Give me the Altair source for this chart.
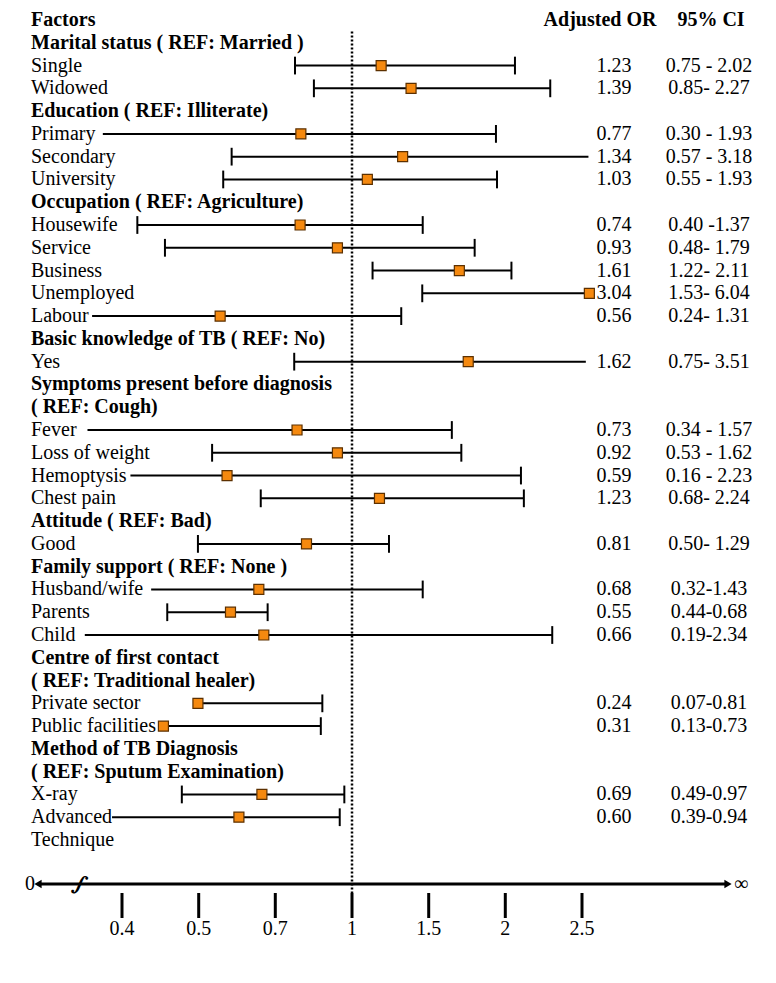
import altair as alt
import pandas as pd

FONT = "Liberation Serif"

# ---------------- data ----------------
labels = [
    "Factors", "Marital status ( REF: Married )", "Single", "Widowed",
    "Education ( REF: Illiterate)", "Primary", "Secondary", "University",
    "Occupation ( REF: Agriculture)", "Housewife", "Service", "Business", "Unemployed", "Labour",
    "Basic knowledge of TB ( REF: No)", "Yes",
    "Symptoms present before diagnosis", "( REF: Cough)", "Fever", "Loss of weight", "Hemoptysis", "Chest pain",
    "Attitude ( REF: Bad)", "Good",
    "Family support ( REF: None )", "Husband/wife", "Parents", "Child",
    "Centre of first contact", "( REF: Traditional healer)", "Private sector", "Public facilities",
    "Method of TB Diagnosis", "( REF: Sputum Examination)", "X-ray", "Advanced", "Technique",
]
is_header = [1, 1, 0, 0, 1, 0, 0, 0, 1, 0, 0, 0, 0, 0, 1, 0, 1, 1, 0, 0, 0, 0,
             1, 0, 1, 0, 0, 0, 1, 1, 0, 0, 1, 1, 0, 0, 0]

est_rows = [2, 3, 5, 6, 7, 9, 10, 11, 12, 13, 15, 18, 19, 20, 21, 23, 25, 26, 27, 30, 31, 34, 35]
or_text = ["1.23", "1.39", "0.77", "1.34", "1.03", "0.74", "0.93", "1.61", "3.04", "0.56", "1.62",
           "0.73", "0.92", "0.59", "1.23", "0.81", "0.68", "0.55", "0.66", "0.24", "0.31", "0.69", "0.60"]
ci_text = ["0.75 - 2.02", "0.85- 2.27", "0.30 - 1.93", "0.57 - 3.18", "0.55 - 1.93", "0.40 -1.37",
           "0.48- 1.79", "1.22- 2.11", "1.53- 6.04", "0.24- 1.31", "0.75- 3.51", "0.34 - 1.57",
           "0.53 - 1.62", "0.16 - 2.23", "0.68- 2.24", "0.50- 1.29", "0.32-1.43", "0.44-0.68",
           "0.19-2.34", "0.07-0.81", "0.13-0.73", "0.49-0.97", "0.39-0.94"]
# positions as drawn on the (broken) axis
or_pos = [1.19, 1.385, 0.80, 1.33, 1.10, 0.797, 0.943, 1.70, 2.548, 0.556, 1.758, 0.785, 0.943,
          0.574, 1.179, 0.822, 0.657, 0.583, 0.670, 0.499, 0.454, 0.665, 0.605]
lo_pos = [0.777, 0.851, 0.375, 0.586, 0.564, 0.420, 0.456, 1.134, 1.458, 0.361, 0.774, 0.355, 0.535,
          0.411, 0.662, 0.499, 0.438, 0.459, 0.3515, 0.499, 0.454, 0.478, 0.387]
hi_pos = [2.063, 2.293, 1.939, 2.542, 1.946, 1.461, 1.800, 2.040, 2.548, 1.321, 2.525, 1.651, 1.713,
          2.102, 2.121, 1.241, 1.461, 0.680, 2.306, 0.884, 0.878, 0.970, 0.952]
left_cap = [1, 1, 0, 1, 1, 1, 1, 1, 1, 0, 1, 0, 1, 0, 1, 1, 0, 1, 0, 0, 0, 1, 0]
right_cap = [1, 1, 1, 0, 1, 1, 1, 1, 0, 1, 0, 1, 1, 1, 1, 1, 1, 1, 1, 1, 1, 1, 1]

tick_values = [0.4, 0.5, 0.7, 1, 1.5, 2, 2.5]
tick_labels = ["0.4", "0.5", "0.7", "1", "1.5", "2", "2.5"]

# ---------------- tables ----------------
df_lab = pd.DataFrame({"label": labels, "row": list(range(len(labels))), "hdr": is_header})
df_est = pd.DataFrame({"row": est_rows, "or_t": or_text, "ci_t": ci_text,
                       "orp": or_pos, "lo": lo_pos, "hi": hi_pos})
cap_rows, cap_x = [], []
for r, lo, hi, lc, rc in zip(est_rows, lo_pos, hi_pos, left_cap, right_cap):
    if lc:
        cap_rows.append(r); cap_x.append(lo)
    if rc:
        cap_rows.append(r); cap_x.append(hi)
df_cap = pd.DataFrame({"row": cap_rows, "cx": cap_x})
df_ticks = pd.DataFrame({"v": tick_values, "t": tick_labels})
df_head = pd.DataFrame({"t": ["Adjusted OR", "95% CI"], "row": [0, 0]})

# ---------------- scales ----------------
W, H = 760, 962
Y0, Y36 = 12.0, 832.0               # chart px of rows 0 and 36
ROW = (Y36 - Y0) / 36.0
def r_at(py):                        # page pixel y -> row units (layout helper)
    return (py - 8 - Y0) / ROW

xs = alt.Scale(domain=tick_values, range=[114, 190.7, 267.3, 344, 420.7, 497.3, 574],
               nice=False, zero=False)
ys = alt.Scale(domain=[0, 36], range=[Y0, Y36], nice=False, zero=False)
Y = alt.Y("row:Q", scale=ys, axis=None)

AXIS_ROW = r_at(884)

lab_norm = alt.Chart(df_lab).transform_filter("datum.hdr == 0").mark_text(
    align="left", baseline="middle", font=FONT, fontSize=20, color="black"
).encode(x=alt.value(23), y=Y, text="label:N")

lab_bold = alt.Chart(df_lab).transform_filter("datum.hdr == 1").mark_text(
    align="left", baseline="middle", font=FONT, fontSize=20, fontWeight="bold", color="black"
).encode(x=alt.value(23), y=Y, text="label:N")

head_or = alt.Chart(df_head).transform_filter("datum.t == 'Adjusted OR'").mark_text(
    align="center", baseline="middle", font=FONT, fontSize=20, fontWeight="bold", color="black"
).encode(x=alt.value(592), y=Y, text="t:N")
head_ci = alt.Chart(df_head).transform_filter("datum.t == '95% CI'").mark_text(
    align="center", baseline="middle", font=FONT, fontSize=20, fontWeight="bold", color="black"
).encode(x=alt.value(703), y=Y, text="t:N")

ci_lines = alt.Chart(df_est).mark_rule(color="black", strokeWidth=2).encode(
    x=alt.X("lo:Q", scale=xs, axis=None), x2="hi:Q", y=Y)

caps = alt.Chart(df_cap).transform_calculate(
    y1="datum.row - 0.39", y2="datum.row + 0.39"
).mark_rule(color="black", strokeWidth=2).encode(
    x=alt.X("cx:Q", scale=xs, axis=None),
    y=alt.Y("y1:Q", scale=ys, axis=None), y2="y2:Q")

dotted = alt.Chart(pd.DataFrame({"v": [1]})).mark_rule(
    color="black", strokeWidth=2.5, strokeDash=[2, 2]
).encode(x=alt.X("v:Q", scale=xs, axis=None),
         y=alt.Y(datum=0.5, scale=ys, axis=None), y2=alt.Y2(datum=r_at(893)))

squares = alt.Chart(df_est).mark_square(
    size=100, filled=True, fill="#F5890F", stroke="#5C3000", strokeWidth=1.2, opacity=1
).encode(x=alt.X("orp:Q", scale=xs, axis=None), y=Y)

or_vals = alt.Chart(df_est).mark_text(
    align="center", baseline="middle", font=FONT, fontSize=20, color="black"
).encode(x=alt.value(606), y=Y, text="or_t:N")
ci_vals = alt.Chart(df_est).mark_text(
    align="center", baseline="middle", font=FONT, fontSize=20, color="black"
).encode(x=alt.value(701), y=Y, text="ci_t:N")

# bottom axis
axis_line = alt.Chart(pd.DataFrame({"a": [0]})).mark_rule(color="black", strokeWidth=3).encode(
    x=alt.value(32), x2=alt.value(718), y=alt.Y(datum=AXIS_ROW, scale=ys, axis=None))
arrow_l = alt.Chart(pd.DataFrame({"a": [0]})).mark_point(
    shape="triangle-left", filled=True, color="black", size=70, opacity=1
).encode(x=alt.value(30), y=alt.Y(datum=AXIS_ROW, scale=ys, axis=None))
arrow_r = alt.Chart(pd.DataFrame({"a": [0]})).mark_point(
    shape="triangle-right", filled=True, color="black", size=70, opacity=1
).encode(x=alt.value(720), y=alt.Y(datum=AXIS_ROW, scale=ys, axis=None))
end_labels = alt.Chart(pd.DataFrame({"t": ["0", "∞"], "px": [0, 1]})).mark_text(
    baseline="middle", font=FONT, fontSize=20, color="black", align="center"
).encode(x=alt.X("px:Q", scale=alt.Scale(domain=[0, 1], range=[22, 733]), axis=None),
         y=alt.Y(datum=AXIS_ROW, scale=ys, axis=None), text="t:N")
brk = alt.Chart(pd.DataFrame({"t": ["∫"]})).mark_text(
    baseline="middle", font="DejaVu Serif", fontSize=22, fontWeight="bold", color="black",
    align="center", angle=20
).encode(x=alt.value(72), y=alt.Y(datum=AXIS_ROW, scale=ys, axis=None), text="t:N")

ticks = alt.Chart(df_ticks).mark_rule(color="black", strokeWidth=3).encode(
    x=alt.X("v:Q", scale=xs, axis=None),
    y=alt.Y(datum=r_at(893), scale=ys, axis=None), y2=alt.Y2(datum=r_at(918)))
tick_text = alt.Chart(df_ticks).mark_text(
    baseline="middle", font=FONT, fontSize=20, color="black", align="center"
).encode(x=alt.X("v:Q", scale=xs, axis=None),
         y=alt.Y(datum=r_at(929), scale=ys, axis=None), text="t:N")

chart = alt.layer(
    dotted, ci_lines, caps, squares, lab_norm, lab_bold, head_or, head_ci, or_vals, ci_vals,
    axis_line, arrow_l, arrow_r, end_labels, brk, ticks, tick_text
).resolve_scale(x="independent").properties(
    width=W, height=H, padding=0, autosize=alt.AutoSizeParams(type="none")
).configure_view(stroke="transparent")

chart.save("out.html", embed_options={"renderer": "svg", "actions": False})
